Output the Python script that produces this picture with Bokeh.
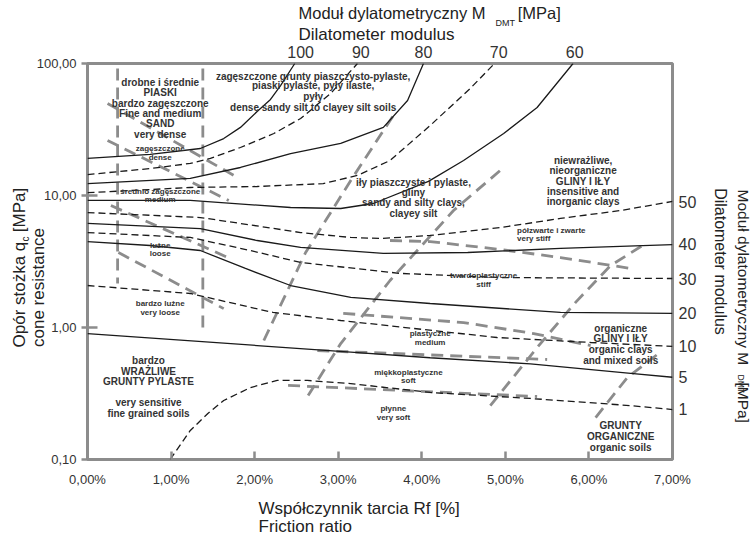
from bokeh.plotting import figure
from bokeh.models import FixedTicker, LinearAxis, LogAxis, Title, Range1d
from bokeh.embed import file_html
from bokeh.resources import INLINE
from bokeh.core.properties import value

FONT = "Liberation Sans"
TXT = "#333333"
TITLE = "#222222"
GRAY = "#8c8c8c"
BLACK = "#1a1a1a"
NB = "\u00a0"

# ---- axes ----
x_ticks = [0, 1, 2, 3, 4, 5, 6, 7]
x_tick_labels = ["0,00%", "1,00%", "2,00%", "3,00%", "4,00%", "5,00%", "6,00%", "7,00%"]
y_ticks = [0.1, 1, 10, 100]
y_tick_labels = ["0,10", "1,00", "10,00", "100,00"]

top_pos = [2.55, 3.27, 4.02, 4.92, 5.83]
top_labels = ["100", "90", "80", "70", "60"]
right_pos = [9.0, 4.3, 2.35, 1.28, 0.72, 0.42, 0.24]
right_labels = ["50", "40", "30", "20", "10", "5", "1"]

# ---- iso-modulus curves (Rf %, qc MPa) ----
m100_rf = [0, 0.75, 1.35, 1.63, 1.83, 2.03, 2.19, 2.31, 2.48]
m100_qc = [19.1, 20.5, 22.7, 27.0, 32.8, 43.3, 53.4, 68.1, 100]
m90_rf = [0, 0.75, 1.23, 1.47, 1.83, 2.23, 2.55, 2.91, 3.23]
m90_qc = [14.4, 16.0, 17.5, 19.1, 23.1, 29.5, 38.3, 59.3, 100]
m80_rf = [0, 1.23, 1.83, 2.43, 3.03, 3.54, 3.83, 4.02]
m80_qc = [12.3, 13.5, 16.3, 20.8, 24.8, 32.8, 52.4, 100]
m70_rf = [0, 1.23, 2.03, 2.82, 3.23, 3.62, 4.10, 4.58, 4.87]
m70_qc = [10.5, 11.5, 11.7, 12.3, 14.2, 18.4, 33.9, 64.7, 100]
m60_rf = [0, 1.23, 2.43, 3.03, 3.42, 4.08, 4.50, 4.98, 5.38, 5.81]
m60_qc = [9.17, 9.17, 8.11, 7.97, 8.70, 12.8, 18.4, 29.5, 46.4, 100]
m50_rf = [0, 1.35, 2.07, 2.55, 3.15, 3.51, 4.10, 4.94, 5.66, 6.38, 7.0]
m50_qc = [7.43, 6.81, 5.83, 5.24, 4.81, 4.72, 4.98, 5.72, 6.70, 7.70, 9.01]
m40_rf = [0, 1.35, 2.03, 2.55, 3.54, 4.55, 5.66, 7.0]
m40_qc = [6.14, 5.62, 4.56, 4.04, 3.64, 3.70, 3.97, 4.25]
m30_rf = [0, 1.23, 1.95, 2.55, 3.74, 4.94, 7.0]
m30_qc = [5.24, 4.81, 3.83, 3.11, 2.57, 2.39, 2.35]
m20_rf = [0, 0.75, 1.35, 1.89, 2.43, 3.15, 4.10, 5.66, 7.0]
m20_qc = [4.48, 4.18, 3.83, 2.80, 2.08, 1.69, 1.52, 1.30, 1.28]
m10_rf = [0, 1.23, 2.22, 3.03, 4.90, 6.02, 7.0]
m10_qc = [2.08, 1.81, 1.30, 1.13, 0.84, 0.77, 0.72]
m5_rf = [0, 2.03, 3.15, 4.10, 5.30, 6.50, 7.0]
m5_qc = [0.90, 0.73, 0.65, 0.59, 0.53, 0.45, 0.42]
m1_rf = [0.99, 1.23, 1.44, 1.63, 1.95, 2.27, 2.63, 3.15, 4.10, 5.30, 6.50, 7.0]
m1_qc = [0.10, 0.166, 0.223, 0.280, 0.351, 0.397, 0.397, 0.376, 0.322, 0.290, 0.256, 0.239]

solid_curves = [(m100_rf, m100_qc), (m80_rf, m80_qc), (m60_rf, m60_qc), (m40_rf, m40_qc),
                (m20_rf, m20_qc), (m5_rf, m5_qc)]
dashed_curves = [(m90_rf, m90_qc), (m70_rf, m70_qc), (m50_rf, m50_qc), (m30_rf, m30_qc),
                 (m10_rf, m10_qc), (m1_rf, m1_qc)]

# ---- soil-type boundaries (grey dashed) ----
v1_rf = [0.36, 0.36]; v1_qc = [91.6, 2.15]
v2_rf = [1.38, 1.38]; v2_qc = [91.6, 0.98]
d1_rf = [0.24, 1.75]; d1_qc = [49.8, 14.2]
d2_rf = [0.24, 1.69]; d2_qc = [26.1, 9.17]
d3_rf = [0.28, 1.68]; d3_qc = [8.40, 3.39]
d4_rf = [0.37, 1.63]; d4_qc = [3.70, 1.39]
z1_rf = [2.11, 2.61, 3.15, 3.66]; z1_qc = [0.797, 3.70, 13.0, 40.4]
z2_rf = [2.64, 3.03, 3.62, 4.38, 4.98]; z2_qc = [0.305, 0.756, 2.27, 7.70, 16.3]
z3_rf = [4.82, 5.42, 5.84, 6.26, 6.68]; z3_qc = [0.256, 0.756, 1.55, 2.95, 4.33]
z4_rf = [6.08, 6.46, 6.85]; z4_qc = [0.208, 0.418, 0.647]
c1_rf = [3.62, 4.10, 4.94, 5.66, 6.50]; c1_qc = [4.56, 4.48, 3.90, 3.39, 2.80]
c2_rf = [3.06, 4.50, 5.34, 6.02]; c2_qc = [1.28, 1.09, 0.90, 0.73]
c3_rf = [2.75, 5.50]; c3_qc = [0.669, 0.572]
c4_rf = [2.40, 5.38]; c4_qc = [0.364, 0.300]
grey_lines = [(v1_rf, v1_qc), (v2_rf, v2_qc), (d1_rf, d1_qc), (d2_rf, d2_qc), (d3_rf, d3_qc),
              (d4_rf, d4_qc), (z1_rf, z1_qc), (z2_rf, z2_qc), (z3_rf, z3_qc), (z4_rf, z4_qc),
              (c1_rf, c1_qc), (c2_rf, c2_qc), (c3_rf, c3_qc), (c4_rf, c4_qc)]

# ---- zone labels ----
big_text = ["drobne i średnie", "PIASKI", "bardzo zagęszczone", "Fine and medium", "SAND", "very dense",
            "zagęszczone grunty piaszczysto-pylaste,", "piaski pylaste, pyły ilaste,", "pyły",
            "dense sandy silt to clayey silt soils",
            "iły piaszczyste i pylaste,", "gliny", "sandy and silty clays,", "clayey silt",
            "niewrażliwe,", "nieorganiczne", "GLINY I IŁY", "insensitive and", "inorganic clays",
            "bardzo", "WRAŻLIWE", "GRUNTY PYLASTE", "very sensitive", "fine grained soils",
            "organiczne", "GLINY I IŁY", "organic clays", "and mixed soils",
            "GRUNTY", "ORGANICZNE", "organic soils"]
big_x = [0.87] * 6 + [2.70] * 4 + [3.90] * 4 + [5.93] * 5 + [0.73] * 5 + [6.38] * 4 + [6.38] * 3
big_y = [71.8, 60.3, 49.8, 41.8, 35.1, 29.0,
         79.7, 68.1, 56.2, 46.4,
         12.55, 10.54, 8.85, 7.30,
         18.4, 15.5, 12.8, 10.7, 9.0,
         0.562, 0.464, 0.390, 0.270, 0.223,
         0.983, 0.825, 0.681, 0.562,
         0.181, 0.149, 0.123]

small_text = ["zagęszczone", "dense", "średnio zagęszczone", "medium", "lużne", "loose",
              "bardzo lużne", "very loose", "twardoplastyczne", "stiff", "plastyczne", "medium",
              "miękkoplastyczne", "soft", "płynne", "very soft"]
small_x = [0.87] * 8 + [4.74, 4.74, 4.10, 4.10, 3.84, 3.84, 3.66, 3.66]
small_y = [22.7, 19.4, 10.7, 9.33, 4.18, 3.64, 1.52, 1.30, 2.48, 2.12, 0.901, 0.770,
           0.456, 0.397, 0.243, 0.208]
left_text = ["półzwarte i zwarte", "very stiff"]
left_x = [5.14, 5.14]
left_y = [5.43, 4.72]

p = figure(width=753, height=536, x_range=Range1d(0, 7), y_range=Range1d(0.1, 100),
           y_axis_type="log", output_backend="svg", toolbar_location=None,
           min_border_left=87, min_border_right=81, min_border_top=63, min_border_bottom=77)
p.title.visible = False
p.grid.visible = False
p.outline_line_color = GRAY
p.outline_line_width = 3
p.background_fill_color = "white"
p.border_fill_color = "white"

xa = p.xaxis[0]
xa.ticker = FixedTicker(ticks=x_ticks)
xa.major_label_overrides = dict(zip(x_ticks, x_tick_labels))
xa.major_tick_in = 8
xa.major_tick_out = 0
xa.major_label_standoff = 12
ya = p.yaxis[0]
ya.ticker = FixedTicker(ticks=y_ticks)
ya.major_label_overrides = dict(zip(y_ticks, y_tick_labels))
ya.major_tick_in = 10
ya.major_tick_out = 6
ya.major_label_standoff = 5
for ax in (xa, ya):
    ax.axis_line_color = None
    ax.major_tick_line_color = GRAY
    ax.major_tick_line_width = 2.5
    ax.minor_tick_line_color = None
    ax.major_label_text_font = FONT
    ax.major_label_text_font_size = "13px"
    ax.major_label_text_color = TXT

top_ax = LinearAxis(ticker=FixedTicker(ticks=top_pos),
                    major_label_overrides=dict(zip(top_pos, top_labels)))
right_ax = LogAxis(ticker=FixedTicker(ticks=right_pos),
                   major_label_overrides=dict(zip(right_pos, right_labels)))
for ax in (top_ax, right_ax):
    ax.axis_line_color = None
    ax.major_tick_line_color = None
    ax.major_tick_out = 0
    ax.major_tick_in = 0
    ax.minor_tick_line_color = None
    ax.major_label_text_font = FONT
    ax.major_label_text_font_size = "16px"
    ax.major_label_text_color = TXT
top_ax.major_label_standoff = 6
right_ax.major_label_standoff = 6

# axis titles that live in the axis panels
for ax, txt, fs, so in ((ya, "cone resistance" + NB * 11, "17px", -14),
                        (right_ax, "Dilatometer modulus", "16px", 13)):
    ax.axis_label = txt
    ax.axis_label_text_font = FONT
    ax.axis_label_text_font_size = fs
    ax.axis_label_text_font_style = "normal"
    ax.axis_label_text_color = TITLE
    ax.axis_label_standoff = so

p.add_layout(top_ax, "above")
p.add_layout(right_ax, "right")


def add_title(side, text, size, offset, standoff, valign):
    p.add_layout(Title(text=text, align="left", offset=offset, standoff=standoff,
                       vertical_align=valign, text_font=FONT, text_font_size=size,
                       text_font_style="normal", text_color=TITLE), side)

# top titles (stacked outward from the top axis)
add_title("above", "Dilatometer modulus", "17px", 211, -6.77, "top")
add_title("above", "DMT", "9px", 408, -3.29, "top")
add_title("above", "Moduł dylatometryczny M" + NB * 7 + "[MPa]", "16.5px", 211, -5.0, "bottom")
# bottom titles
add_title("below", "Współczynnik tarcia Rf [%]", "17px", 171, 14.79, "bottom")
add_title("below", "Friction ratio", "17px", 171, -16.77, "top")
# left titles
add_title("left", "c", "10px", 218, -10.1, "bottom")
add_title("left", "Opór stożka q" + NB * 2 + "[MPa]", "17px", 112, -13.0, "bottom")
# right titles
add_title("right", "DMT", "8.5px", 311, 2.62, "top")
add_title("right", "Moduł dylatometryczny M" + NB * 4 + "[MPa]", "15.5px", 126, -24.6, "bottom")

for rf, qc in grey_lines:
    p.line(rf, qc, line_color=GRAY, line_width=2.8, line_dash="12 7")
for rf, qc in solid_curves:
    p.line(rf, qc, line_color=BLACK, line_width=1.3)
for rf, qc in dashed_curves:
    p.line(rf, qc, line_color=BLACK, line_width=1.3, line_dash="7 4")

p.text(x=big_x, y=big_y, text=big_text, text_font=value(FONT), text_font_style="bold",
       text_font_size="10px", text_color=TXT, text_align="center", text_baseline="middle")
p.text(x=small_x, y=small_y, text=small_text, text_font=value(FONT), text_font_style="bold",
       text_font_size="8px", text_color=TXT, text_align="center", text_baseline="middle")
p.text(x=left_x, y=left_y, text=left_text, text_font=value(FONT), text_font_style="bold",
       text_font_size="8px", text_color=TXT, text_align="left", text_baseline="middle")

open("out.html", "w").write(file_html(p, INLINE))
